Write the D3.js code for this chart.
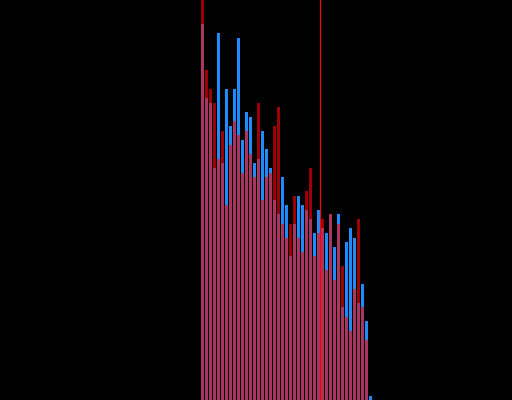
<!DOCTYPE html>
<html>
<head>
<meta charset="utf-8">
<script src="https://cdn.jsdelivr.net/npm/d3@7"></script>
<style>
  html, body { margin: 0; padding: 0; background: #000; }
  svg { display: block; }
</style>
</head>
<body>
<div id="chart"></div>
<script>
// bin counts (43 bins)
var bins = d3.range(43);
var blueCounts = [376, 302, 297, 232, 367, 237, 311, 274, 311, 362, 260,
                  288, 283, 237, 241, 269, 251, 232, 200, 186, 223, 195,
                  144, 176, 204, 195, 190, 181, 167, 190, 172, 167, 186,
                  153, 186, 93, 158, 172, 162, 97, 116, 79, 4];
var redCounts = [430, 330, 311, 297, 241, 269, 195, 255, 279, 265, 227,
                 269, 246, 223, 297, 200, 223, 227, 274, 293, 176, 162,
                 176, 204, 162, 148, 209, 232, 144, 167, 181, 130, 186,
                 120, 176, 134, 83, 69, 111, 181, 93, 60, 0];
var markerBin = 29.875;

var width = 512, height = 400;

var svg = d3.select("#chart").append("svg")
  .attr("width", width)
  .attr("height", height)
  .style("background", "#000");

var x = d3.scaleLinear()
  .domain([0, bins.length])
  .range([201, 201 + 4 * bins.length]);

var y = d3.scaleLinear()
  .domain([0, 400])
  .range([height, 0]);

var bw = x(1) - x(0) - 1;

svg.append("g")
  .selectAll("rect")
  .data(bins)
  .enter().append("rect")
  .attr("x", d => x(d))
  .attr("y", d => y(blueCounts[d]))
  .attr("width", bw)
  .attr("height", d => height - y(blueCounts[d]))
  .attr("fill", "#1e8cff");

svg.append("g")
  .selectAll("rect")
  .data(bins)
  .enter().append("rect")
  .attr("x", d => x(d))
  .attr("y", d => y(redCounts[d]))
  .attr("width", bw)
  .attr("height", d => height - y(redCounts[d]))
  .attr("fill", "#ff0000")
  .attr("fill-opacity", 0.62);

svg.append("line")
  .attr("x1", x(markerBin))
  .attr("x2", x(markerBin))
  .attr("y1", 0)
  .attr("y2", height)
  .style("stroke", "#ff0000")
  .style("stroke-width", 1.2);
</script>
</body>
</html>
